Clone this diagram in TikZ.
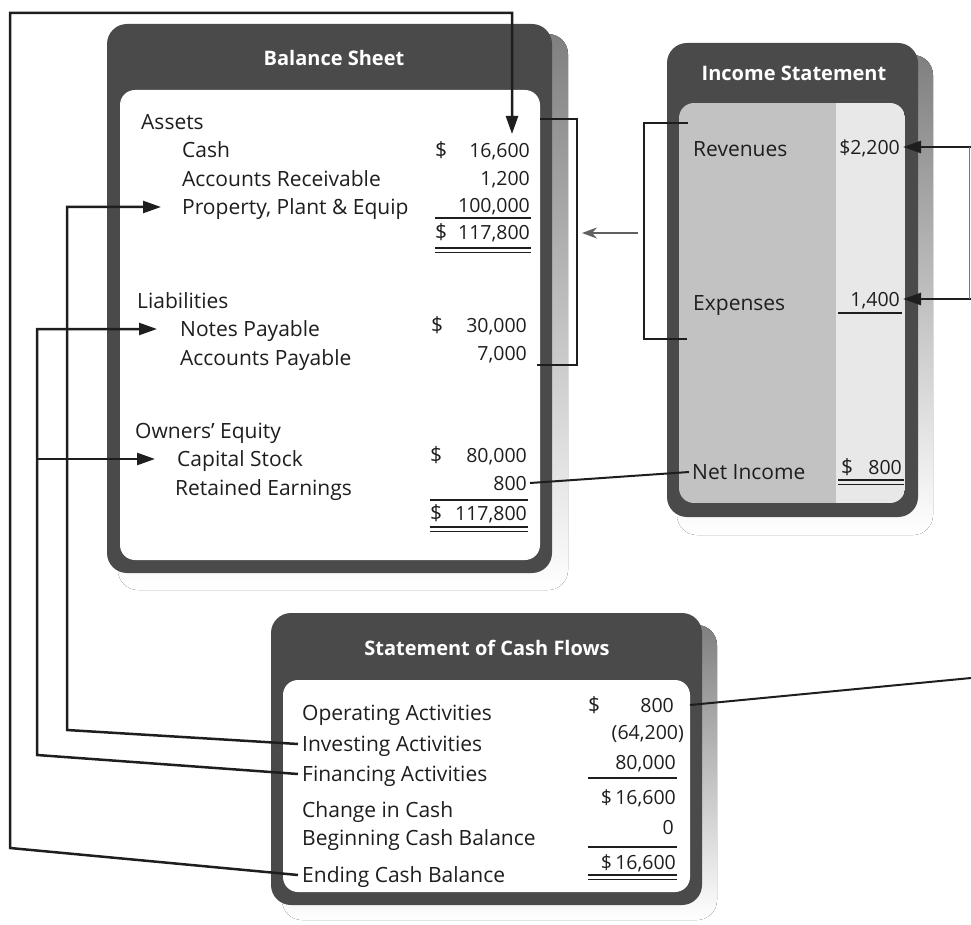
\documentclass[tikz,border=0pt]{standalone}
\usepackage{fontspec}
\setmainfont{Open Sans}
\usetikzlibrary{arrows.meta}
\definecolor{rim}{HTML}{4A4A4A}
\definecolor{shade}{HTML}{A5A5A5}
\definecolor{ink}{HTML}{1E1E1E}
\definecolor{isleft}{HTML}{C2C2C2}
\definecolor{isright}{HTML}{E8E8E8}
\begin{document}
\begin{tikzpicture}[x=1pt,y=-1pt,
  lbl/.style={inner sep=0pt, text height=15pt, text depth=0pt, font=\fontsize{21}{24}\selectfont, text=ink},
  lw/.style={lbl, anchor=west},
  le/.style={lbl, anchor=east, font=\fontsize{19.5}{24}\selectfont},
  hdr/.style={inner sep=0pt, font=\fontsize{20}{22}\selectfont\bfseries, text=white},
  conn/.style={draw=ink, line width=2.5pt},
  tip/.style={-{Triangle[length=18pt,width=12pt]}},
  uline/.style={draw=ink, line width=1.6pt},
  dline/.style={draw=ink, line width=1.3pt},
]
\useasboundingbox (0,0) rectangle (971,925);

% ---------- Balance Sheet box
\fill[shade, rounded corners=20pt] (118,34) rectangle (568,590);
\fill[rim, rounded corners=20pt] (107,24) rectangle (552,573);
\fill[white, rounded corners=15pt] (120,90) rectangle (540,560);
\node[hdr] (bstitle) at (334,58) {Balance Sheet};

% ---------- Income Statement box
\fill[shade, rounded corners=20pt] (677,55) rectangle (933,535);
\fill[rim, rounded corners=20pt] (667,43) rectangle (918,517);
\begin{scope}
  \clip[rounded corners=15pt] (679,103) rectangle (905,503);
  \fill[isleft] (679,103) rectangle (836,503);
  \fill[isright] (836,103) rectangle (905,503);
\end{scope}
\node[hdr] (istitle) at (794,73) {Income Statement};

% ---------- Cash Flows box
\fill[shade, rounded corners=20pt] (282,625) rectangle (717,920);
\fill[rim, rounded corners=20pt] (271,613) rectangle (702,905);
\fill[white, rounded corners=15pt] (283,680) rectangle (690,892);
\node[hdr] (cftitle) at (487,648) {Statement of Cash Flows};

% ---------- Balance sheet texts
\node[lw] (assets) at (141,122) {Assets};
\node[lw] (cash) at (182,150) {Cash};
\node[lw] (ar) at (182,179) {Accounts Receivable};
\node[lw] (ppe) at (182,207) {Property, Plant \& Equip};
\node[lw] (cashd) at (435,150) {\$};
\node[le] (cashv) at (530,150) {16,600};
\node[le] (arv) at (530,178) {1,200};
\node[le] (ppev) at (530,205) {100,000};
\node[lw] (tad) at (435,232) {\$};
\node[le] (tav) at (530,232) {117,800};
\draw[uline] (435,218) -- (531,218);
\draw[dline] (435,248) -- (531,248);
\draw[dline] (435,252.5) -- (531,252.5);

\node[lw] (liab) at (137,301) {Liabilities};
\node[lw] (notes) at (180,329) {Notes Payable};
\node[lw] (ap) at (180,358) {Accounts Payable};
\node[lw] (npd) at (431,325) {\$};
\node[le] (npv) at (527,325) {30,000};
\node[le] (apv) at (527,353) {7,000};

\node[lw] (oe) at (135,431) {Owners' Equity};
\node[lw] (cap) at (177,459) {Capital Stock};
\node[lw] (re) at (175,488) {Retained Earnings};
\node[lw] (csd) at (430,455) {\$};
\node[le] (csv) at (527,455) {80,000};
\node[le] (rev800) at (527,483) {800};
\draw[uline] (430,500) -- (528,500);
\node[lw] (tld) at (430,513) {\$};
\node[le] (tlv) at (527,513) {117,800};
\draw[dline] (430,527) -- (528,527);
\draw[dline] (430,531.5) -- (528,531.5);

% ---------- Income statement texts
\node[lw] (revl) at (693,149) {Revenues};
\node[le] (revv) at (900,147) {\$2,200};
\node[lw] (expl) at (693,303) {Expenses};
\node[le] (expv) at (900,299) {1,400};
\draw[uline] (838,313) -- (902,313);
\node[lw] (netl) at (692,472) {Net Income};
\node[lw] (netd) at (841,467) {\$};
\node[le] (netv) at (902,467) {800};
\draw[dline] (838,480) -- (904,480);
\draw[dline] (838,484.5) -- (904,484.5);

% ---------- Cash flow texts
\node[lw] (op) at (302,713) {Operating Activities};
\node[lw] (inv) at (302,744) {Investing Activities};
\node[lw] (fin) at (302,774) {Financing Activities};
\node[lw] (chg) at (302,810) {Change in Cash};
\node[lw] (beg) at (302,838) {Beginning Cash Balance};
\node[lw] (endc) at (302,875) {Ending Cash Balance};
\node[lw] (opd) at (588,705) {\$};
\node[le] (opv) at (674,705) {800};
\node[le] (invv) at (684,732) {(64,200)};
\node[le] (finv) at (676,762) {80,000};
\draw[uline] (588,778) -- (677,778);
\node[le] (chgv) at (676,797) {\$\,16,600};
\node[le] (begv) at (674,827) {0};
\draw[uline] (588,847) -- (677,847);
\node[le] (endv) at (676,862) {\$\,16,600};
\draw[dline] (588,875) -- (677,875);
\draw[dline] (588,879.5) -- (677,879.5);

% ---------- connector coordinates
\coordinate (eL) at (10,848);
\coordinate (tL) at (10,13);
\coordinate (tR) at (512,13);
\coordinate (cashin) at (512,134);
\coordinate (iC) at (67,730);
\coordinate (iV) at (67,0);
\coordinate (fC) at (37,755);
\coordinate (fV) at (37,0);
\coordinate (b1) at (540,119);
\coordinate (b2) at (577,119);
\coordinate (b3) at (577,365);
\coordinate (b4) at (537,365);
\coordinate (m1) at (638,233);
\coordinate (m2) at (582,233);
\coordinate (c1) at (688,123);
\coordinate (c2) at (644,123);
\coordinate (c3) at (644,339);
\coordinate (c4) at (687,339);
\coordinate (rR1) at (971,147);
\coordinate (rR2) at (971,299);
\coordinate (vR1) at (969.5,147);
\coordinate (vR2) at (969.5,299);
\coordinate (opR) at (971,678);

% ---------- connectors
\draw[conn, tip] ([xshift=-4pt]endc.west) -- (eL) -- (tL) -- (tR) -- (cashin);
\draw[conn, tip] ([xshift=-4pt]inv.west) -- (iC) -- (iV |- ppe.west) -- ([xshift=-21pt]ppe.west);
\draw[conn, tip] ([xshift=-4pt]fin.west) -- (fC) -- (fV |- notes.west) -- ([xshift=-23pt]notes.west);
\draw[conn, tip] (fV |- cap.west) -- ([xshift=-22pt]cap.west);
\draw[conn] (b1) -- (b2) -- (b3) -- (b4);
\draw[conn] (c1) -- (c2) -- (c3) -- (c4);
\draw[draw=gray!75!black, line width=2pt, -{Stealth[length=15pt,width=11pt]}] (m1) -- (m2);
\draw[conn, line width=2pt] ([xshift=-3pt]netl.west) -- ([xshift=3pt]rev800.east);
\draw[conn, tip] (rR1) -- ([xshift=3pt]revv.east);
\draw[conn, tip] (rR2) -- ([xshift=3pt]expv.east);
\draw[draw=ink!60, line width=1pt] (vR1) -- (vR2);
\draw[conn, line width=2pt] ([xshift=16pt]opv.east) -- (opR);
\end{tikzpicture}
\end{document}
